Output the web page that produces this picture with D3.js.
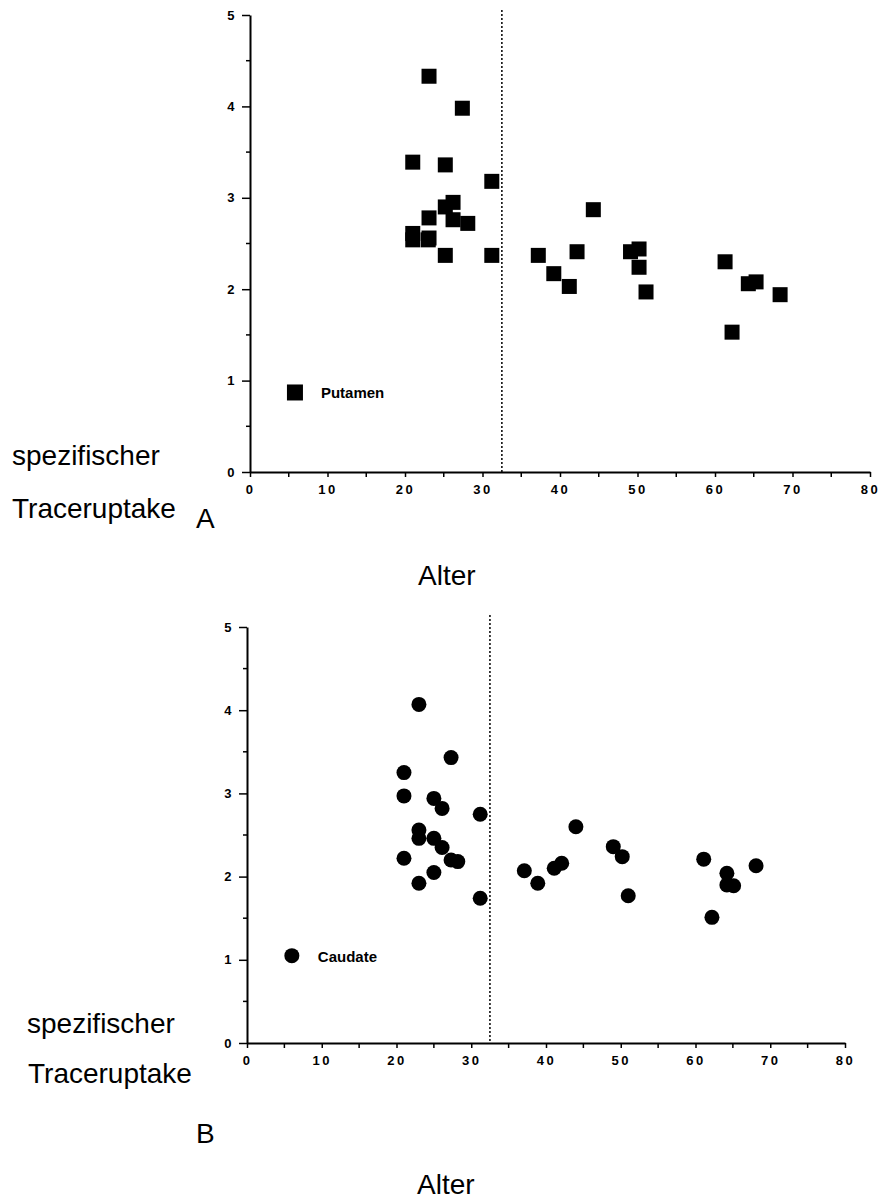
<!DOCTYPE html>
<html>
<head>
<meta charset="utf-8">
<script src="https://cdn.jsdelivr.net/npm/d3@7"></script>
<style>
  body { margin: 0; background: #fff; }
  svg { display: block; }
  .tick text { font-family: "Liberation Sans", Arial, sans-serif; font-weight: bold; font-size: 13px; letter-spacing: 2.5px; }
  .lbl { font-family: "Liberation Sans", Arial, sans-serif; font-size: 28px; fill: #000; }
  .leg { font-family: "Liberation Sans", Arial, sans-serif; font-size: 15px; font-weight: bold; }
</style>
</head>
<body>
<svg width="887" height="1202"></svg>
<script>
var svg = d3.select("svg")

// Putamen (panel A): age, specific uptake
var putamenAge = [23.1, 27.4, 21, 25.2, 31.2, 26.2, 25.2, 23.1, 26.2, 28.1, 21, 23.1, 21, 23, 25.2, 31.2,
    37.2, 39.2, 41.2, 42.2, 44.3, 49.1, 50.2, 50.2, 51.1, 61.3, 62.2, 64.3, 65.3, 68.4]
var putamenVal = [4.33, 3.98, 3.39, 3.36, 3.18, 2.95, 2.9, 2.78, 2.76, 2.72, 2.61, 2.56, 2.54, 2.54, 2.37, 2.37,
    2.37, 2.17, 2.03, 2.41, 2.87, 2.41, 2.44, 2.24, 1.97, 2.30, 1.53, 2.06, 2.08, 1.94]

// Caudate (panel B)
var caudateAge = [23, 27.3, 21, 21, 25, 26.1, 31.2, 23, 23, 25, 26.1, 21, 27.3, 28.2, 25, 23, 31.2,
    37.1, 38.9, 41.1, 42.1, 44, 49, 50.2, 51, 61.1, 62.2, 64.2, 64.2, 65.1, 68.1]
var caudateVal = [4.07, 3.43, 3.25, 2.97, 2.94, 2.82, 2.75, 2.56, 2.46, 2.46, 2.35, 2.22, 2.2, 2.18, 2.05, 1.92, 1.74,
    2.07, 1.92, 2.1, 2.16, 2.6, 2.36, 2.24, 1.77, 2.21, 1.51, 2.04, 1.9, 1.89, 2.13]

var xTicks = [0, 10, 20, 30, 40, 50, 60, 70, 80]
var yTicks = [0, 1, 2, 3, 4, 5]
var cutoffAge = 32.5

var panels = [
    { ages: putamenAge, vals: putamenVal, shape: "square", name: "Putamen",
      x0: 250, x1: 870, y0: 472, y1: 15, lineTop: 10, legAge: 5.8, legVal: 0.87 },
    { ages: caudateAge, vals: caudateVal, shape: "circle", name: "Caudate",
      x0: 247, x1: 845, y0: 1043, y1: 627, lineTop: 615, legAge: 6, legVal: 1.05 }
]

panels.forEach(drawPanel)

function drawPanel(p) {
    var x = d3.scaleLinear().domain([0, 80]).range([p.x0, p.x1])
    var y = d3.scaleLinear().domain([0, 5]).range([p.y0, p.y1])
    var g = svg.append("g")

    // minor ticks
    g.append("g").selectAll("line").data(d3.range(0.5, 5, 1)).join("line")
        .attr("x1", p.x0 - 4).attr("x2", p.x0).attr("y1", d => y(d)).attr("y2", d => y(d))
        .attr("stroke", "#000").attr("stroke-width", 1.5)
    g.append("g").selectAll("line").data(d3.range(5, 80, 10)).join("line")
        .attr("x1", d => x(d)).attr("x2", d => x(d)).attr("y1", p.y0).attr("y2", p.y0 + 5)
        .attr("stroke", "#000").attr("stroke-width", 1.5)

    var ya = g.append("g").attr("transform", "translate(" + p.x0 + ",0)")
        .call(d3.axisLeft(y).tickValues(yTicks).tickFormat(d3.format("d")).tickSize(8).tickPadding(5).tickSizeOuter(0))
    var xa = g.append("g").attr("transform", "translate(0," + p.y0 + ")")
        .call(d3.axisBottom(x).tickValues(xTicks).tickFormat(d3.format("d")).tickSize(5).tickPadding(8).tickSizeOuter(0))
    ;[ya, xa].forEach(a => {
        a.select(".domain").attr("stroke-width", 2)
        a.selectAll(".tick line").attr("stroke-width", 1.5)
        a.selectAll(".tick text").attr("fill", "#000")
    })

    // age cutoff
    g.append("line")
        .attr("x1", x(cutoffAge)).attr("x2", x(cutoffAge))
        .attr("y1", p.lineTop).attr("y2", p.y0)
        .attr("stroke", "#000").attr("stroke-width", 1.5).attr("stroke-dasharray", "2,2")

    var pts = d3.zip(p.ages, p.vals)
    if (p.shape === "square") {
        g.append("g").selectAll("rect").data(pts).join("rect")
            .attr("x", d => x(d[0]) - 7.5).attr("y", d => y(d[1]) - 7.5)
            .attr("width", 15).attr("height", 15).attr("fill", "#000")
    } else {
        g.append("g").selectAll("circle").data(pts).join("circle")
            .attr("cx", d => x(d[0])).attr("cy", d => y(d[1])).attr("r", 7.5).attr("fill", "#000")
    }

    // legend
    var lx = x(p.legAge), ly = y(p.legVal)
    if (p.shape === "square")
        g.append("rect").attr("x", lx - 8).attr("y", ly - 8).attr("width", 16).attr("height", 16)
    else
        g.append("circle").attr("cx", lx).attr("cy", ly).attr("r", 7.5)
    g.append("text").attr("class", "leg").attr("x", lx + 26).attr("y", ly + 6).text(p.name)
}

// labels
var labels = [
    { t: "spezifischer", x: 12, y: 465 },
    { t: "Traceruptake", x: 12, y: 518 },
    { t: "A", x: 196, y: 528 },
    { t: "Alter", x: 418, y: 585 },
    { t: "spezifischer", x: 27, y: 1033 },
    { t: "Traceruptake", x: 28, y: 1083 },
    { t: "B", x: 196, y: 1143 },
    { t: "Alter", x: 417, y: 1194 }
]
svg.selectAll("text.lbl").data(labels).join("text").attr("class", "lbl")
    .attr("x", d => d.x).attr("y", d => d.y).text(d => d.t)
</script>
</body>
</html>
